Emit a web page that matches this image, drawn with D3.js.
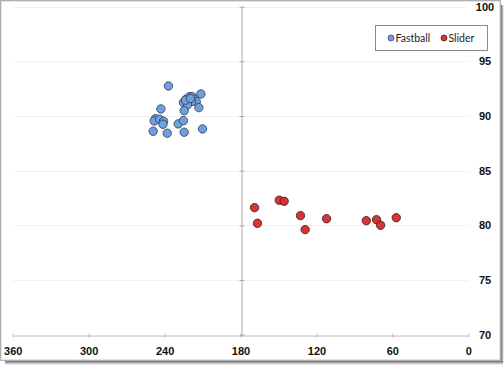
<!DOCTYPE html>
<html><head><meta charset="utf-8">
<script src="https://cdn.jsdelivr.net/npm/d3@7"></script>
<style>html,body{margin:0;padding:0;background:#fff;}svg{display:block;}</style>
</head><body>
<svg id="c" width="504" height="366"></svg>
<script>
const fastballX = [236.9,211.3,225.1,222.9,220.3,218.2,216.6,215.0,218.7,221.9,212.9,224.5,242.9,247.2,248.2,244.0,240.8,241.3,229.2,225.1,249.0,237.9,224.5,210.0,223.5,219.5];
const fastballY = [92.75,92.02,91.23,91.54,91.77,91.77,91.54,91.32,91.32,91.02,90.77,90.49,90.65,89.76,89.55,89.71,89.52,89.25,89.28,89.58,88.61,88.43,88.52,88.82,91.45,91.6];
const sliderX = [168.9,166.6,149.4,145.5,132.6,128.9,112.0,80.6,72.5,69.3,56.9];
const sliderY = [81.62,80.19,82.30,82.20,80.89,79.61,80.61,80.43,80.52,80.01,80.70];
const xTicks = [360,300,240,180,120,60,0];
const yTicks = [70,75,80,85,90,95,100];
const seriesNames = ["Fastball","Slider"];

const svg = d3.select("#c");

// frame + shadow
const defs = svg.append("defs");
const gR = defs.append("linearGradient").attr("id","shR").attr("x1",0).attr("x2",1).attr("y1",0).attr("y2",0);
gR.append("stop").attr("offset","0%").attr("stop-color","#6a6a6a");
gR.append("stop").attr("offset","100%").attr("stop-color","#ffffff");
const gB = defs.append("linearGradient").attr("id","shB").attr("x1",0).attr("x2",0).attr("y1",0).attr("y2",1);
gB.append("stop").attr("offset","0%").attr("stop-color","#6a6a6a");
gB.append("stop").attr("offset","100%").attr("stop-color","#ffffff");
svg.append("rect").attr("x",501).attr("y",5).attr("width",3).attr("height",358).attr("fill","url(#shR)");
svg.append("rect").attr("x",5).attr("y",361).attr("width",498).attr("height",4).attr("fill","url(#shB)");
svg.append("rect").attr("x",0.5).attr("y",0.5).attr("width",500).attr("height",360)
  .attr("fill","#fff").attr("stroke","#b0b0b0").attr("stroke-width",1);
svg.append("rect").attr("x",1.5).attr("y",1.5).attr("width",498).attr("height",358)
  .attr("fill","none").attr("stroke","#e4e4e4").attr("stroke-width",1);

const x = d3.scaleLinear().domain([360,0]).range([12.7,468.3]);
const y = d3.scaleLinear().domain([70,100]).range([334.7,6.7]);

// gridlines
svg.append("g").selectAll("line").data(yTicks.filter(d=>d>70)).join("line")
  .attr("x1",x(360)).attr("x2",x(0)).attr("y1",d=>Math.round(y(d))+0.5).attr("y2",d=>Math.round(y(d))+0.5)
  .attr("stroke","#f2f2f2").attr("stroke-width",1);

// x axis
const xAxis = d3.axisBottom(x).tickValues(xTicks).tickSize(0).tickPadding(0);
const gx = svg.append("g").attr("transform",`translate(0,${Math.round(y(70))+0.5})`).call(xAxis);
gx.select(".domain").attr("stroke","#bdbdbd");
gx.selectAll(".tick text").attr("dy",null).attr("y",19)
  .style("font-family","Liberation Sans, Arial, sans-serif").style("font-size","11px").style("font-weight","bold").attr("fill","#111");
gx.selectAll(".tick").append("line").attr("y1",-2).attr("y2",2).attr("stroke","#bdbdbd");

// y axis at x=180
const yAxis = d3.axisRight(y).tickValues(yTicks).tickSize(0).tickPadding(0);
const gy = svg.append("g").attr("transform",`translate(${Math.round(x(180))+0.5},0)`).call(yAxis);
gy.select(".domain").attr("stroke","#a8a8a8");
gy.selectAll(".tick").append("line").attr("x1",-2).attr("x2",3).attr("stroke","#a8a8a8");
gy.selectAll(".tick text").attr("x",485 - (Math.round(x(180))+0.5)).attr("text-anchor","middle")
  .style("font-family","Liberation Sans, Arial, sans-serif").style("font-size","11px").style("font-weight","bold").attr("fill","#111");

// points
const fb = fastballX.map((d,i)=>({x:d,y:fastballY[i]}));
const sl = sliderX.map((d,i)=>({x:d,y:sliderY[i]}));
svg.append("g").selectAll("circle").data(fb).join("circle")
  .attr("cx",d=>x(d.x)).attr("cy",d=>y(d.y)).attr("r",4.2)
  .attr("fill","#6f9fde").attr("stroke","#2b3a50").attr("stroke-width",0.8);
svg.append("g").selectAll("circle").data(sl).join("circle")
  .attr("cx",d=>x(d.x)).attr("cy",d=>y(d.y)).attr("r",4.2)
  .attr("fill","#d43535").attr("stroke","#3a1a1a").attr("stroke-width",0.8);

// legend
const lg = svg.append("g");
lg.append("rect").attr("x",375.5).attr("y",25.5).attr("width",112).attr("height",25)
  .attr("fill","#fff").attr("stroke","#8a8a8a");
const colors = ["#6f9fde","#d43535"], strokes=["#2b3a50","#3a1a1a"];
const lx = [391,444];
seriesNames.forEach((n,i)=>{
  lg.append("circle").attr("cx",lx[i]).attr("cy",38).attr("r",3).attr("fill",colors[i]).attr("stroke",strokes[i]).attr("stroke-width",0.7);
  lg.append("text").attr("x",lx[i]+4.5).attr("y",41.5).text(n)
    .style("font-family","Lato, sans-serif").style("font-size","10.5px").attr("fill","#222");
});
</script>
</body></html>
